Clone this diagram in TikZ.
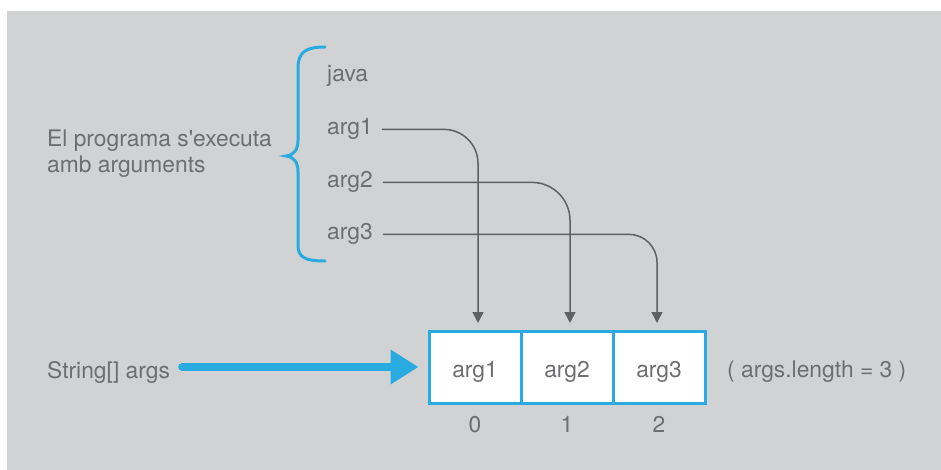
\documentclass[tikz,border=0pt]{standalone}
\usepackage{fontspec}
\setmainfont{TeX Gyre Heros}[Ligatures=TeXOff]
\usetikzlibrary{arrows.meta}
\definecolor{bg}{HTML}{D1D2D4}
\definecolor{txt}{HTML}{6D6E71}
\definecolor{ln}{HTML}{5F6062}
\definecolor{blu}{HTML}{29ABE2}
\begin{document}
\begin{tikzpicture}[x=1pt,y=-1pt,
  lbl/.style={inner sep=0pt, text=txt, font=\fontsize{22.8}{26}\selectfont},
  cell/.style={draw=blu, line width=3pt, fill=white, minimum width=92pt, minimum height=72pt, inner sep=0pt},
  conn/.style={draw=ln, line width=1.5pt, -{Triangle[width=11pt,length=11pt]}},
  bigarrow/.style={draw=blu, line width=8pt, line cap=round, -{Triangle[width=33pt,length=28pt]}},
  bracestyle/.style={draw=blu, line width=3pt, line cap=round}
]
\useasboundingbox (0,0) rectangle (941,470);
\fill[white] (0,0) rectangle (941,470);
\fill[bg] (7,11) rectangle (941,470);

% brace
\draw[bracestyle] (325,47) .. controls (306,47) and (298,52) .. (298,68) -- (298,140)
  .. controls (298,150) and (294,155) .. (286,156)
  .. controls (294,157) and (298,162) .. (298,172) -- (298,245)
  .. controls (298,258) and (306,261) .. (325,261);

% left labels
\node[lbl, anchor=base west] (desc1) at (47,147) {El programa s'executa};
\node[lbl, anchor=base west] (desc2) at (47,173) {amb arguments};

\node[lbl, anchor=base west] (java) at (327,82) {java};
\node[lbl, anchor=base west] (a1) at (327,135) {arg1};
\node[lbl, anchor=base west] (a2) at (327,188) {arg2};
\node[lbl, anchor=base west] (a3) at (327,240) {arg3};

% array cells
\node[cell] (c1) at (475,367) {};
\node[cell] (c2) at (567,367) {};
\node[cell] (c3) at (659,367) {};
\node[lbl, anchor=base] (t1) at (475,377) {arg1};
\node[lbl, anchor=base] (t2) at (567,377) {arg2};
\node[lbl, anchor=base] (t3) at (659,377) {arg3};

\node[lbl, anchor=base] (i0) at (475,432) {0};
\node[lbl, anchor=base] (i1) at (567,432) {1};
\node[lbl, anchor=base] (i2) at (659,432) {2};

\node[lbl, anchor=base west] (str) at (47,378) {String[] args};
\node[lbl, anchor=base west] (len) at (727,377) {( args.length = 3 )};

% connectors
\coordinate (e1) at (478,323);
\coordinate (e2) at (570,323);
\coordinate (e3) at (657,323);
\draw[conn, rounded corners=34pt] ([xshift=9pt]a1.east) -| (e1);
\draw[conn, rounded corners=38pt] ([xshift=10pt]a2.east) -| (e2);
\draw[conn, rounded corners=28pt] ([xshift=10pt]a3.east) -| (e3);

\draw[bigarrow] ([xshift=12pt]str.east |- c1.west) -- ([xshift=-9pt]c1.west);
\end{tikzpicture}
\end{document}
